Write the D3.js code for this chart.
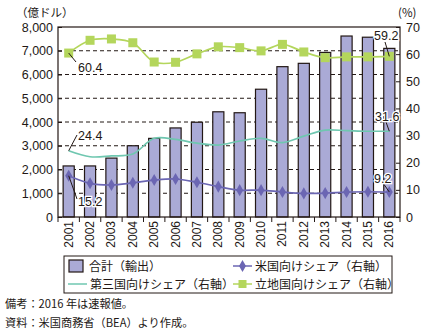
<!DOCTYPE html>
<meta charset="utf-8">
<script src="https://d3js.org/d3.v7.min.js"></script>
<style>
  body { margin: 0; background: #fff; }
  text { font-family: "Noto Sans CJK JP", "Noto Sans", sans-serif; fill: #231815; }
</style>
<div id="chart"></div>
<script>
// Data
const years = ["2001","2002","2003","2004","2005","2006","2007","2008","2009","2010","2011","2012","2013","2014","2015","2016"];
const exportsTotal = [2150, 2150, 2480, 3000, 3310, 3750, 3990, 4430, 4390, 5380, 6330, 6470, 6930, 7620, 7570, 7100];
const usShare = [15.2, 12.4, 11.8, 12.6, 13.6, 14.0, 12.8, 11.2, 9.9, 9.9, 9.2, 8.7, 8.8, 9.2, 9.3, 9.2];
const thirdShare = [24.4, 22.2, 22.5, 23.2, 29.0, 28.6, 27.2, 26.5, 28.0, 29.0, 27.4, 29.8, 32.0, 31.8, 31.6, 31.6];
const hostShare = [60.4, 65.1, 65.6, 64.2, 57.1, 57.0, 60.1, 62.7, 62.4, 61.2, 63.6, 60.8, 58.7, 59.0, 59.0, 59.2];
const leftTicks = [0, 1000, 2000, 3000, 4000, 5000, 6000, 7000, 8000];
const rightTicks = [0, 10, 20, 30, 40, 50, 60, 70];

const W = 424, H = 332;
const margin = {top: 27, right: 24, bottom: 115, left: 58};
const plotW = W - margin.left - margin.right,
      plotH = H - margin.top - margin.bottom;

const colBar = "#aaaad6", colUS = "#6b66b3", colThird = "#6fc7b0", colHost = "#b4d65c";

const svg = d3.select("#chart").append("svg")
    .attr("width", W).attr("height", H);

const g = svg.append("g").attr("transform", `translate(${margin.left},${margin.top})`);

const x = d3.scaleBand().domain(years).range([0, plotW]).paddingInner(0.48).paddingOuter(0.24);
const step = x.step();
const cx = d => x(d) + x.bandwidth() / 2;
const yL = d3.scaleLinear().domain([0, 8000]).range([plotH, 0]);
const yR = d3.scaleLinear().domain([0, 70]).range([plotH, 0]);

// dashed grid
g.append("g").selectAll("line")
  .data(leftTicks.filter(d => d > 0 && d < 8000))
  .join("line")
    .attr("x1", 0).attr("x2", plotW)
    .attr("y1", d => yL(d)).attr("y2", d => yL(d))
    .attr("stroke", "#231815").attr("stroke-width", 1)
    .attr("stroke-dasharray", "4,3");

// bars
g.append("g").selectAll("rect")
  .data(years)
  .join("rect")
    .attr("x", d => x(d))
    .attr("y", (d, i) => yL(exportsTotal[i]))
    .attr("width", x.bandwidth())
    .attr("height", (d, i) => plotH - yL(exportsTotal[i]))
    .attr("fill", colBar)
    .attr("stroke", "#231815").attr("stroke-width", 1.2);

// lines
function drawLine(vals, color, marker) {
  const line = d3.line().x((d, i) => cx(years[i])).y(d => yR(d)).curve(d3.curveCatmullRom.alpha(0.5));
  g.append("path").datum(vals)
    .attr("d", line).attr("fill", "none")
    .attr("stroke", color).attr("stroke-width", 1.7);
  if (marker === "square") {
    g.append("g").selectAll("rect").data(vals).join("rect")
      .attr("x", (d, i) => cx(years[i]) - 4.5).attr("y", d => yR(d) - 4.5)
      .attr("width", 9).attr("height", 9).attr("fill", color);
  } else if (marker === "diamond") {
    const sym = d3.symbol().type(d3.symbolDiamond).size(42);
    g.append("g").selectAll("path").data(vals).join("path")
      .attr("transform", (d, i) => `translate(${cx(years[i])},${yR(d)})`)
      .attr("d", sym).attr("fill", color);
  }
}
drawLine(thirdShare, colThird, null);
drawLine(hostShare, colHost, "square");
drawLine(usShare, colUS, "diamond");

// frame
g.append("rect").attr("width", plotW).attr("height", plotH)
  .attr("fill", "none").attr("stroke", "#231815").attr("stroke-width", 1.2);

// left axis
const axL = g.append("g").call(d3.axisLeft(yL).tickValues(leftTicks).tickFormat(d3.format(",")).tickSize(-4).tickPadding(5));
axL.select(".domain").remove();
axL.selectAll("line").attr("stroke", "#231815");
axL.selectAll("text").attr("font-size", 12.5).style("font-family", "'Liberation Sans', sans-serif");

// right axis
const axR = g.append("g").attr("transform", `translate(${plotW},0)`)
  .call(d3.axisRight(yR).tickValues(rightTicks).tickSize(-4).tickPadding(6));
axR.select(".domain").remove();
axR.selectAll("line").attr("stroke", "#231815");
axR.selectAll("text").attr("font-size", 12.5).style("font-family", "'Liberation Sans', sans-serif");

// x ticks at band boundaries
g.append("g").selectAll("line").data(d3.range(years.length + 1))
  .join("line")
    .attr("x1", i => i * step).attr("x2", i => i * step)
    .attr("y1", plotH).attr("y2", plotH + 5)
    .attr("stroke", "#231815");

// x labels rotated
g.append("g").selectAll("text").data(years).join("text")
  .attr("transform", d => `translate(${cx(d) + 4},${plotH + 4}) rotate(-90)`)
  .attr("text-anchor", "end")
  .attr("font-size", 12)
  .style("font-family", "'Liberation Sans', sans-serif")
  .text(d => d);

// unit labels
svg.append("text").attr("x", 16).attr("y", 17).attr("font-size", 11.5).text("（億ドル）");
svg.append("text").attr("x", 398).attr("y", 17).attr("font-size", 11.5).text("(%)");

// value callouts
const callouts = [
  {val: hostShare[0], idx: 0, tx: 78, ty: 72, lx: 76, ly: 62},
  {val: thirdShare[0], idx: 0, tx: 78, ty: 140, lx: 77, ly: 135},
  {val: usShare[0], idx: 0, tx: 78, ty: 206, lx: 77, ly: 199},
  {val: hostShare[15], idx: 15, tx: 374, ty: 40, lx: 385, ly: 42},
  {val: thirdShare[15], idx: 15, tx: 375, ty: 121, lx: 386, ly: 122},
  {val: usShare[15], idx: 15, tx: 374, ty: 183, lx: 383, ly: 183}
];
callouts.forEach(c => {
  const px = margin.left + cx(years[c.idx]), py = margin.top + yR(c.val);
  svg.append("line").attr("x1", px).attr("y1", py).attr("x2", c.lx).attr("y2", c.ly)
    .attr("stroke", "#231815").attr("stroke-width", 1);
  svg.append("text").attr("x", c.tx).attr("y", c.ty)
    .attr("font-size", 12.5).style("font-family", "'Liberation Sans', sans-serif")
    .attr("stroke", "#fff").attr("stroke-width", 2.5).attr("paint-order", "stroke")
    .text(c.val.toFixed(1));
});

// legend
const lg = svg.append("g");
lg.append("rect").attr("x", 64).attr("y", 256).attr("width", 328).attr("height", 37)
  .attr("fill", "#fff").attr("stroke", "#231815").attr("stroke-width", 1);
const legendItems = [
  {label: "合計（輸出）", type: "bar", x: 69, y: 266, color: colBar},
  {label: "米国向けシェア（右軸）", type: "diamond", x: 233, y: 266, color: colUS},
  {label: "第三国向けシェア（右軸）", type: "line", x: 68, y: 284, color: colThird},
  {label: "立地国向けシェア（右軸）", type: "square", x: 233, y: 284, color: colHost}
];
legendItems.forEach(it => {
  if (it.type === "bar") {
    lg.append("rect").attr("x", it.x).attr("y", it.y - 6).attr("width", 14).attr("height", 12)
      .attr("fill", it.color).attr("stroke", "#231815").attr("stroke-width", 1.2);
  } else {
    lg.append("line").attr("x1", it.x).attr("x2", it.x + 19).attr("y1", it.y).attr("y2", it.y)
      .attr("stroke", it.color).attr("stroke-width", 1.5);
    if (it.type === "diamond") {
      lg.append("path").attr("transform", `translate(${it.x + 9.5},${it.y})`)
        .attr("d", d3.symbol().type(d3.symbolDiamond).size(42)).attr("fill", it.color);
    } else if (it.type === "square") {
      lg.append("rect").attr("x", it.x + 5.5).attr("y", it.y - 4).attr("width", 8).attr("height", 8).attr("fill", it.color);
    }
  }
  lg.append("text").attr("x", it.type === "bar" ? 89 : it.x + 22).attr("y", it.y + 4.5)
    .attr("font-size", 12).text(it.label);
});

// notes
svg.append("text").attr("x", 5).attr("y", 308).attr("font-size", 11.2).text("備考：2016 年は速報値。");
svg.append("text").attr("x", 5).attr("y", 327).attr("font-size", 11.2).text("資料：米国商務省（BEA）より作成。");
</script>
